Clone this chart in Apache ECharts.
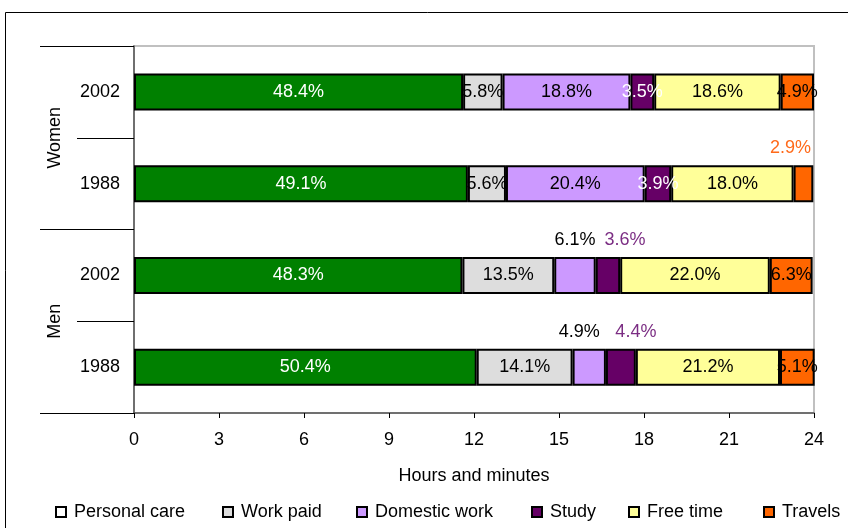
<!DOCTYPE html>
<html>
<head>
<meta charset="utf-8">
<script src="https://cdn.jsdelivr.net/npm/echarts@6/dist/echarts.min.js"></script>
<style>
  html, body { margin: 0; padding: 0; background: #fff; }
  #chart { width: 848px; height: 528px; }
</style>
</head>
<body>
<div id="chart"></div>
<script>
// 数据
var categories = ['Women 2002', 'Women 1988', 'Men 2002', 'Men 1988'];
var yearLabels = ['2002', '1988', '2002', '1988'];
var groups = ['Women', 'Men'];
var names = ['Personal care', 'Work paid', 'Domestic work', 'Study', 'Free time', 'Travels'];
var personalCare = [48.4, 49.1, 48.3, 50.4];
var workPaid = [5.8, 5.6, 13.5, 14.1];
var domesticWork = [18.8, 20.4, 6.1, 4.9];
var study = [3.5, 3.9, 3.6, 4.4];
var freeTime = [18.6, 18.0, 22.0, 21.2];
var travels = [4.9, 2.9, 6.3, 5.1];
var hourTicks = [0, 3, 6, 9, 12, 15, 18, 21, 24];

var values = [personalCare, workPaid, domesticWork, study, freeTime, travels];
var colors = ['#008000', '#dddddd', '#cc99ff', '#660066', '#ffff99', '#ff6600'];
var labelColors = ['#fff', '#000', '#000', '#fff', '#000', '#000'];

// 标签位置（放在柱子上方的几个）
var outsideLabels = {
  '2-2': { color: '#000', offset: [0, 0] },
  '2-3': { color: '#000', offset: [-10, 0] },
  '3-2': { color: '#7b2d83', offset: [17, 0] },
  '3-3': { color: '#7b2d83', offset: [15, 0] },
  '5-1': { color: '#ff6a1a', offset: [-13, 0] }
};

// 图例位置
var legendLeft = [55, 222, 356, 531, 628, 763];

var font = 'Liberation Sans, Arial, sans-serif';

var series = values.map((arr, s) => ({
  name: names[s],
  type: 'bar',
  stack: 'day',
  barWidth: 37,
  itemStyle: {
    color: colors[s],
    borderColor: '#000',
    borderWidth: 2
  },
  label: {
    show: true,
    position: 'inside',
    color: labelColors[s],
    fontFamily: font,
    fontSize: 18,
    formatter: p => values[p.seriesIndex][p.dataIndex].toFixed(1) + '%'
  },
  data: arr.map((v, i) => {
    var item = { value: v * 24 / 100 };
    var o = outsideLabels[s + '-' + i];
    if (o) {
      item.label = {
        position: 'top',
        distance: 8,
        color: o.color,
        offset: o.offset
      };
    }
    return item;
  })
}));

var legends = names.map((n, i) => ({
  left: legendLeft[i],
  top: 503,
  padding: 0,
  itemWidth: 10,
  itemHeight: 10,
  icon: 'rect',
  selectedMode: false,
  itemStyle: { borderColor: '#000', borderWidth: 2 },
  textStyle: { fontFamily: font, fontSize: 18, color: '#000', padding: [0, 0, 0, 3] },
  data: [i === 0 ? { name: n, itemStyle: { color: '#fff' } } : n]
}));

var chart = echarts.init(document.getElementById('chart'));
chart.setOption({
  animation: false,
  backgroundColor: '#fff',
  graphic: [{
    type: 'rect',
    shape: { x: 5.5, y: 12.5, width: 900, height: 600 },
    style: { fill: null, stroke: '#000', lineWidth: 1 },
    silent: true
  }],
  grid: {
    left: 134,
    right: 34,
    top: 46,
    bottom: 115,
    show: true,
    borderColor: '#c0c0c0',
    borderWidth: 2,
    backgroundColor: '#fff'
  },
  legend: legends,
  xAxis: {
    type: 'value',
    min: 0,
    max: 24,
    interval: 3,
    name: 'Hours and minutes',
    nameLocation: 'middle',
    nameGap: 54,
    nameTextStyle: { fontFamily: font, fontSize: 18, color: '#000' },
    axisLine: { show: true, lineStyle: { color: '#555', width: 1.5 } },
    axisTick: { show: true, length: 5, lineStyle: { color: '#000' } },
    axisLabel: {
      fontFamily: font,
      fontSize: 18,
      color: '#000',
      margin: 18,
      formatter: v => hourTicks.indexOf(v) >= 0 ? String(v) : ''
    },
    splitLine: { show: false }
  },
  yAxis: [{
    type: 'category',
    inverse: true,
    data: categories,
    axisLine: { show: true, lineStyle: { color: '#555', width: 1.5 } },
    axisTick: { show: true, length: 57, lineStyle: { color: '#000' } },
    axisLabel: {
      fontFamily: font,
      fontSize: 18,
      color: '#000',
      margin: 14,
      formatter: (v, i) => yearLabels[i]
    }
  }, {
    type: 'category',
    inverse: true,
    position: 'left',
    offset: 0,
    data: groups,
    axisLine: { show: false },
    axisTick: { show: true, length: 94, lineStyle: { color: '#000' } },
    axisLabel: {
      fontFamily: font,
      fontSize: 18,
      color: '#000',
      rotate: 90,
      margin: 70
    }
  }],
  series
});
</script>
</body>
</html>
